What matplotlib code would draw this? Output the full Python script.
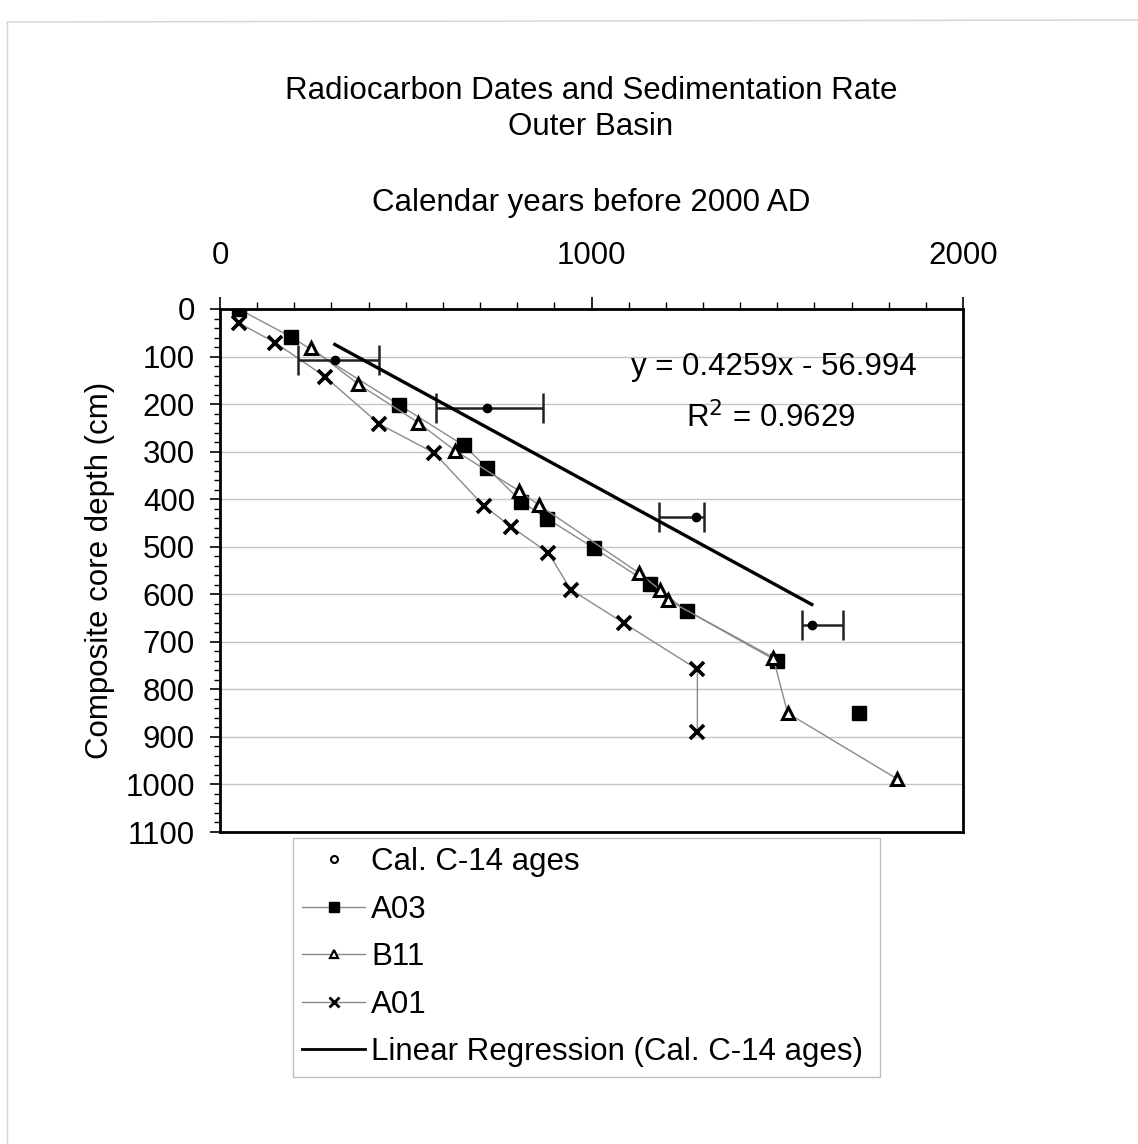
import numpy as np
import matplotlib
matplotlib.use("Agg")
import matplotlib.pyplot as plt
from matplotlib.lines import Line2D
from matplotlib.ticker import MultipleLocator

plt.rcParams['font.family'] = ['Liberation Sans', 'DejaVu Sans']

# ---------------- data ----------------
title_text = "Radiocarbon Dates and Sedimentation Rate\nOuter Basin"
x_label = "Calendar years before 2000 AD"
y_label = "Composite core depth (cm)"

cal_age = [309, 719, 1282, 1593]
cal_depth = [107, 209, 438, 665]
cal_err_minus = [99, 137, 99, 27]
cal_err_plus = [120, 151, 22, 83]

a03_age = [50, 192, 483, 656, 720, 811, 881, 1007, 1158, 1258, 1498, np.nan, 1719]
a03_depth = [0, 59, 202, 287, 335, 405, 441, 503, 579, 635, 740, np.nan, 850]

b11_age = [246, 372, 534, 633, 804, 858, 1129, 1185, 1205, 1489, 1528, 1822]
b11_depth = [82, 158, 239, 298, 382, 412, 556, 591, 612, 733, 850, 988]

a01_age = [50, 149, 282, 429, 577, 710, 784, 884, 944, 1088, 1285, 1285]
a01_depth = [29, 71, 142, 242, 303, 414, 458, 513, 590, 661, 758, 890]

reg_slope = 0.4259
reg_intercept = -56.994
reg_r2 = 0.9629

legend_labels = ["Cal. C-14 ages", "A03", "B11", "A01",
                 "Linear Regression (Cal. C-14 ages)"]

# ---------------- figure ----------------
W, H = 1138, 1144
fig = plt.figure(figsize=(W / 100, H / 100), dpi=100)
fig.patch.set_facecolor('white')

# faint outer chart-area border (left and top edges visible)
fig.add_artist(Line2D([7 / W, 7 / W], [0, 1 - 22 / H], transform=fig.transFigure,
                      color='#d4d4d4', lw=1.0))
fig.add_artist(Line2D([7 / W, 1.0], [1 - 22 / H, 1 - 20 / H], transform=fig.transFigure,
                      color='#d4d4d4', lw=1.0))

ax = fig.add_axes([220 / W, 1 - 832 / H, 743 / W, 523 / H])

FS = 22.5
line_grey = '#8a8a8a'

ax.plot(a03_age, a03_depth, color=line_grey, lw=1.0, marker='s', ms=10,
        mfc='black', mec='black', zorder=3)
ax.plot(b11_age, b11_depth, color=line_grey, lw=1.0, marker='^', ms=9,
        mfc='white', mec='black', mew=2.2, zorder=3)
ax.plot(a01_age, a01_depth, color=line_grey, lw=1.0, marker='x', ms=10,
        mec='black', mew=2.6, zorder=3)

ax.errorbar(cal_age, cal_depth, xerr=[cal_err_minus, cal_err_plus], fmt='o',
            ms=6, color='black', ecolor='#222222', elinewidth=1.8,
            capsize=11, capthick=1.8, zorder=4)

reg_x = np.array([min(cal_age), max(cal_age)])
ax.plot(reg_x, reg_slope * reg_x + reg_intercept, color='black', lw=2.4, zorder=5)

ax.text(0.745, 1 - (367 - 309) / 523, f"y = {reg_slope}x - {abs(reg_intercept)}",
        transform=ax.transAxes, ha='center', va='center', fontsize=FS)
ax.text(0.741, 1 - (418 - 309) / 523, f"R$^2$ = {reg_r2}", transform=ax.transAxes,
        ha='center', va='center', fontsize=FS)

# axes
ax.set_xlim(0, 2000)
ax.set_ylim(1100, 0)
ax.xaxis.tick_top()
ax.xaxis.set_label_position('top')
ax.xaxis.set_major_locator(MultipleLocator(1000))
ax.xaxis.set_minor_locator(MultipleLocator(100))
ax.yaxis.set_major_locator(MultipleLocator(100))
ax.yaxis.set_minor_locator(MultipleLocator(20))
ax.tick_params(axis='x', which='major', direction='out', length=9, width=1.2,
               pad=18, labelsize=FS, top=True, bottom=False)
ax.tick_params(axis='x', which='minor', direction='out', length=5, width=1.0,
               top=True, bottom=False)
ax.tick_params(axis='y', which='major', direction='out', length=7, width=1.2,
               pad=11, labelsize=FS)
ax.tick_params(axis='y', which='minor', direction='out', length=4, width=1.0)

ax.grid(axis='y', which='major', color='#c4c4c4', lw=1.0)
ax.set_axisbelow(True)
for s in ax.spines.values():
    s.set_linewidth(2.0)
    s.set_color('black')

ax.set_xlabel(x_label, fontsize=FS)
ax.xaxis.set_label_coords(0.5, 1 + (309 - 203) / 523)
ax.xaxis.label.set_va('center')
ax.set_ylabel(y_label, fontsize=FS)
ax.yaxis.set_label_coords((100 - 220) / 743, 0.5)
ax.yaxis.label.set_va('center')

fig.text(591 / W, 1 - 109 / H, title_text, ha='center', va='center',
         fontsize=FS, linespacing=1.3)

# legend
handles = [
    Line2D([], [], ls='none', marker='o', ms=5, mfc='white', mec='black', mew=1.5),
    Line2D([], [], color=line_grey, lw=1.0, marker='s', ms=7, mfc='black', mec='black'),
    Line2D([], [], color=line_grey, lw=1.0, marker='^', ms=6, mfc='white', mec='black', mew=1.6),
    Line2D([], [], color=line_grey, lw=1.0, marker='x', ms=7, mec='black', mew=2.0),
    Line2D([], [], color='black', lw=2.0),
]
leg = fig.legend(handles, legend_labels, loc='upper left',
                 bbox_to_anchor=(293 / W, 1 - 1077 / H, (880 - 293) / W, (1077 - 838) / H),
                 mode='expand', fontsize=FS, frameon=True, fancybox=False,
                 borderpad=0.3, labelspacing=0.56, handlelength=2.0,
                 handletextpad=0.2, borderaxespad=0)
leg.get_frame().set_edgecolor('#b0b0b0')
leg.get_frame().set_linewidth(1.0)

fig.savefig("out.png", dpi=100, facecolor='white')
